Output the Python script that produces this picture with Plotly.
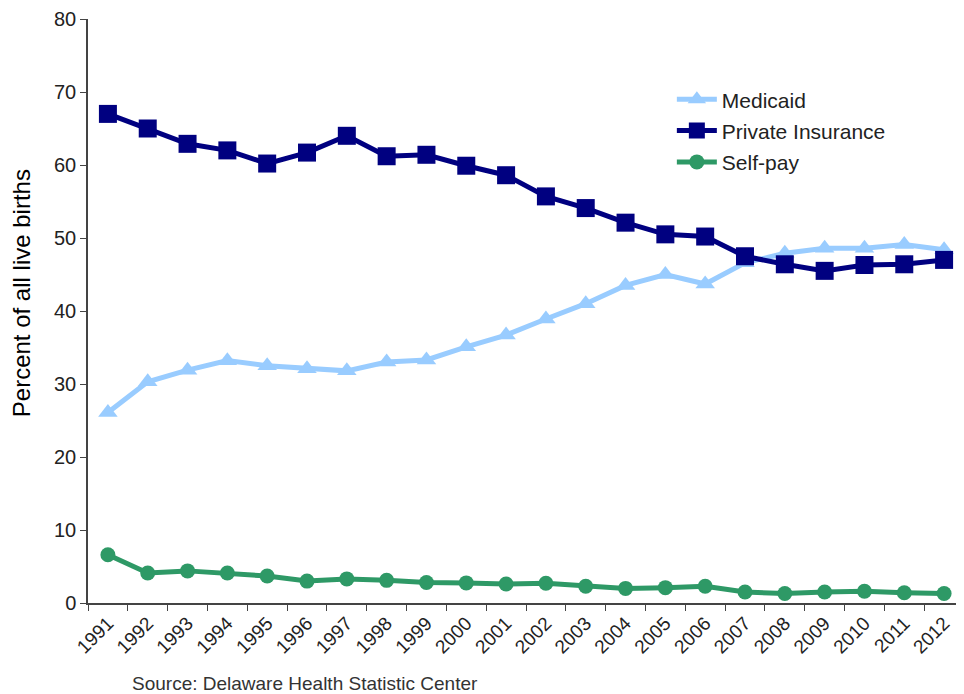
import plotly.graph_objects as go

# Delaware births by payer source, percent of all live births
YEARS = [str(y) for y in range(1991, 2013)]

MEDICAID = [26.1, 30.3, 31.9, 33.2, 32.5, 32.1, 31.8, 33.0, 33.3, 35.1, 36.7,
            38.9, 41.0, 43.5, 45.0, 43.7, 46.6, 47.9, 48.6, 48.6, 49.1, 48.4]
PRIVATE = [67.0, 65.0, 62.9, 62.0, 60.2, 61.7, 64.0, 61.2, 61.4, 59.9, 58.6,
           55.7, 54.1, 52.1, 50.5, 50.2, 47.5, 46.4, 45.5, 46.3, 46.4, 47.0]
SELF_PAY = [6.6, 4.1, 4.4, 4.1, 3.7, 3.0, 3.3, 3.1, 2.8, 2.75, 2.6,
            2.7, 2.3, 2.0, 2.1, 2.3, 1.5, 1.3, 1.5, 1.6, 1.4, 1.3]

COLORS = {
    'medicaid': '#99CCFF',
    'private': '#000080',
    'selfpay': '#2E9966',
}

fig = go.Figure()

fig.add_trace(go.Scatter(
    x=YEARS, y=MEDICAID, name='Medicaid', mode='lines+markers',
    legendgroup='a',
    line=dict(color=COLORS['medicaid'], width=5),
    marker=dict(symbol='triangle-up', size=17, color=COLORS['medicaid'])
))
fig.add_trace(go.Scatter(
    x=YEARS, y=PRIVATE, name='Private Insurance', mode='lines+markers',
    legendgroup='b',
    line=dict(color=COLORS['private'], width=5),
    marker=dict(symbol='square', size=18, color=COLORS['private'])
))
fig.add_trace(go.Scatter(
    x=YEARS, y=SELF_PAY, name='Self-pay', mode='lines+markers',
    legendgroup='c',
    line=dict(color=COLORS['selfpay'], width=5),
    marker=dict(symbol='circle', size=15, color=COLORS['selfpay'])
))

# the page body adds an 8px offset, so the figure is a bit smaller than the window
fig.update_layout(
    width=956, height=686,
    margin=dict(l=80, r=0, t=11, b=91),
    plot_bgcolor='white', paper_bgcolor='white',
    font=dict(family='Liberation Sans, Arial', size=20, color='#222'),
    legend=dict(
        x=0.6665, y=0.897, xanchor='left', yanchor='top',
        bgcolor='rgba(0,0,0,0)', font=dict(size=21, color='#222'),
        tracegroupgap=1, itemwidth=40
    ),
    annotations=[
        dict(
            text='Percent of all live births', textangle=-90,
            xref='paper', yref='paper', x=-0.075, y=0.531,
            xanchor='center', yanchor='middle', showarrow=False,
            font=dict(size=24, color='black')
        ),
        dict(
            text='Source: Delaware Health Statistic Center',
            xref='paper', yref='paper', x=0.048, y=-0.137,
            xanchor='left', yanchor='middle', showarrow=False,
            font=dict(family='Liberation Sans, Arial', size=19, color='#333')
        ),
    ]
)

fig.update_xaxes(
    type='category', range=[-0.5, 21.5], automargin=False,
    showline=True, linecolor='#444', linewidth=1.5,
    ticks='outside', tickson='boundaries', ticklen=6, tickcolor='#444',
    tickangle=-45, showgrid=False, tickfont=dict(size=19)
)
fig.update_yaxes(
    range=[0, 80], dtick=10, automargin=False, ticklabeloverflow='allow',
    showline=True, linecolor='#444', linewidth=1.5,
    ticks='outside', ticklen=6, tickcolor='#444',
    showgrid=False, zeroline=False, tickfont=dict(size=20)
)

fig.write_html("out.html")
